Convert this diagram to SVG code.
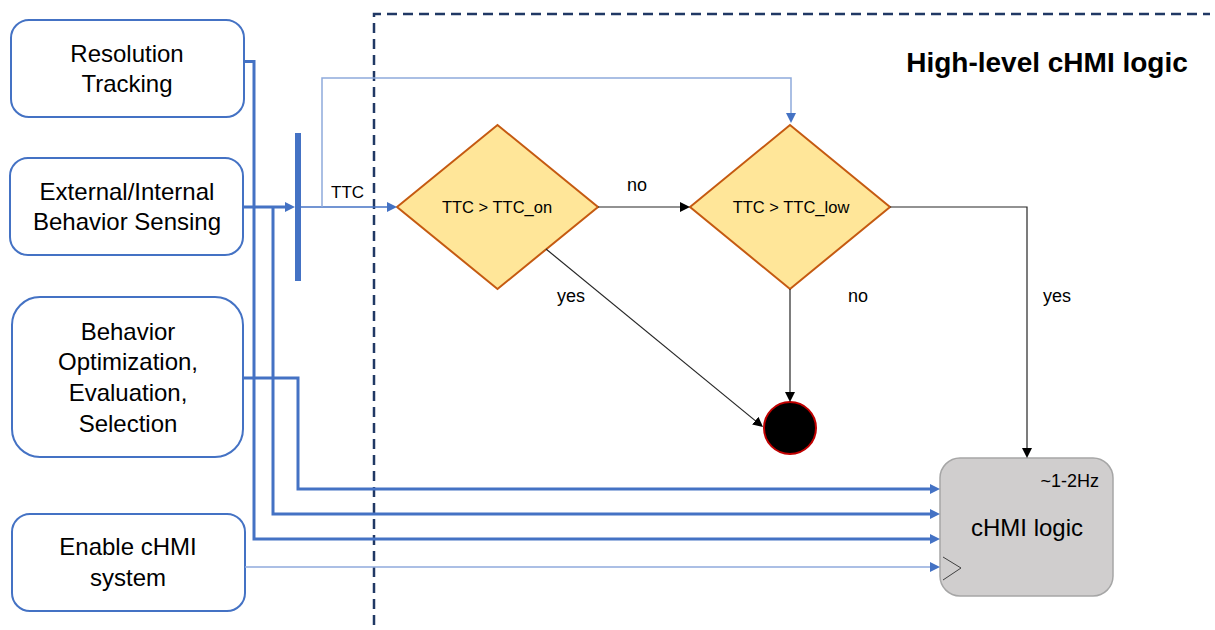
<svg xmlns="http://www.w3.org/2000/svg" width="1215" height="630" viewBox="0 0 1215 630">
  <style>
    text { font-family: "Liberation Sans", Arial, sans-serif; fill: #000; }
    .box { fill: #fff; stroke: #4472C4; stroke-width: 2; }
    .lbl { font-size: 24px; text-anchor: middle; }
    .small { font-size: 18px; }
    .cond { font-size: 16.5px; text-anchor: middle; }
    .diamond { fill: #FFE699; stroke: #C55A11; stroke-width: 2; }
    .bus { fill: none; stroke: #4472C4; stroke-width: 3; }
    .thin { fill: none; stroke: #4472C4; stroke-width: 1.5; }
    .light { fill: none; stroke: #8FAADC; stroke-width: 1.5; }
    .flow { fill: none; stroke: #262626; stroke-width: 1.2; }
    .frame { fill: none; stroke: #203864; stroke-width: 2.5; stroke-dasharray: 10 6; }
  </style>
  <defs>
    <marker id="arrowBlue" markerUnits="userSpaceOnUse" viewBox="0 0 10 10" refX="6" refY="5" markerWidth="10" markerHeight="10" orient="auto">
      <path d="M0,0 L10,5 L0,10 z" fill="#4472C4"/>
    </marker>
    <marker id="arrowBlack" markerUnits="userSpaceOnUse" viewBox="0 0 10 10" refX="7" refY="5" markerWidth="10" markerHeight="10" orient="auto">
      <path d="M0,0 L10,5 L0,10 z" fill="#000"/>
    </marker>
  </defs>

  <!-- boundary of the high-level logic block -->
  <path class="frame" d="M374,625 V14 H1210"/>
  <text x="1047" y="72" font-size="28" font-weight="bold" text-anchor="middle">High-level cHMI logic</text>

  <!-- input modules -->
  <g id="resolution-tracking">
    <rect class="box" x="11" y="20" width="233" height="97" rx="18"/>
    <text class="lbl" x="127" y="62">Resolution</text>
    <text class="lbl" x="127" y="92">Tracking</text>
  </g>
  <g id="behavior-sensing">
    <rect class="box" x="10" y="158" width="233" height="97" rx="18"/>
    <text class="lbl" x="127" y="200">External/Internal</text>
    <text class="lbl" x="127" y="230">Behavior Sensing</text>
  </g>
  <g id="behavior-optimization">
    <rect class="box" x="12" y="297" width="231" height="160" rx="28"/>
    <text class="lbl" x="128" y="340">Behavior</text>
    <text class="lbl" x="128" y="370">Optimization,</text>
    <text class="lbl" x="128" y="401">Evaluation,</text>
    <text class="lbl" x="128" y="432">Selection</text>
  </g>
  <g id="enable-chmi">
    <rect class="box" x="12" y="514" width="233" height="97" rx="18"/>
    <text class="lbl" x="128" y="555">Enable cHMI</text>
    <text class="lbl" x="128" y="586">system</text>
  </g>

  <!-- signal fork bar -->
  <g id="fork-bar">
    <rect x="295" y="133" width="6" height="148" fill="#4472C4"/>
  </g>

  <!-- decisions -->
  <g id="ttc-on">
    <polygon class="diamond" points="397,207 497.5,125 598,207 497.5,289"/>
    <text class="cond" x="497" y="213">TTC &gt; TTC_on</text>
  </g>
  <g id="ttc-low">
    <polygon class="diamond" points="690,207 790,125 890,207 790,289"/>
    <text class="cond" x="791" y="213">TTC &gt; TTC_low</text>
  </g>
  <g id="end-state">
    <circle cx="790" cy="428" r="26" fill="#000" stroke="#C00000" stroke-width="2"/>
  </g>

  <!-- low-level logic block -->
  <g id="chmi-logic">
    <rect x="940" y="458" width="173" height="138" rx="20" fill="#D0CECE" stroke="#A6A6A6" stroke-width="1.5"/>
    <text x="1099" y="487" font-size="18" text-anchor="end">~1-2Hz</text>
    <text class="lbl" x="1027" y="536">cHMI logic</text>
    <polyline points="943,557 961,568 943,580" fill="none" stroke="#404040" stroke-width="1"/>
  </g>

  <!-- connectors -->
  <g id="connectors">
    <path class="bus" stroke-width="2.5" d="M244,61.5 H254 V539 H936" marker-end="url(#arrowBlue)"/>
    <path class="bus" d="M243,207 H291" marker-end="url(#arrowBlue)"/>
    <path class="bus" d="M273,207 V514 H936" marker-end="url(#arrowBlue)"/>
    <path class="bus" d="M243,378 H298 V489 H936" marker-end="url(#arrowBlue)"/>
    <path class="light" d="M245,567 H936" marker-end="url(#arrowBlue)"/>
    <path class="thin" d="M301,207 H393" marker-end="url(#arrowBlue)"/>
    <path class="light" d="M322,207 V78 H791 V119" marker-end="url(#arrowBlue)"/>

    <path class="flow" d="M598,207 H687" marker-end="url(#arrowBlack)"/>
    <path class="flow" d="M546,249 L760.7,425.1" marker-end="url(#arrowBlack)"/>
    <path class="flow" d="M790,289 V399" marker-end="url(#arrowBlack)"/>
    <path class="flow" d="M890,207 H1027 V455" marker-end="url(#arrowBlack)"/>

    <text x="331" y="198" font-size="17">TTC</text>
    <text class="small" x="627" y="191">no</text>
    <text class="small" x="557" y="302">yes</text>
    <text class="small" x="848" y="302">no</text>
    <text class="small" x="1043" y="302">yes</text>
  </g>
</svg>
